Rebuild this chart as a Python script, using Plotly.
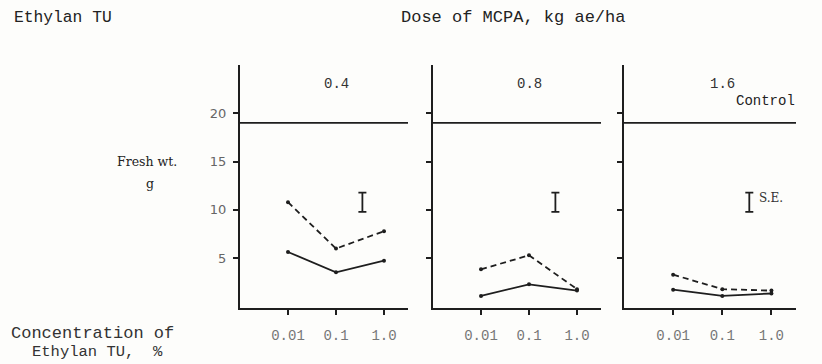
import plotly.graph_objects as go

# ---- data ----
doses = ["0.4", "0.8", "1.6"]                 # Dose of MCPA, kg ae/ha (panel titles)
concentrations = ["0.01", "0.1", "1.0"]       # Concentration of Ethylan TU, %
conc_pos = [1, 2, 3]
dashed_series = [[10.8, 6.0, 7.8], [3.85, 5.3, 1.8], [3.3, 1.8, 1.65]]
solid_series = [[5.65, 3.55, 4.75], [1.1, 2.3, 1.65], [1.75, 1.1, 1.35]]
control_value = 19.0
se_center = 10.8
se_half = 1.0
se_pos = 2.55
y_ticks = [5, 10, 15, 20]

INK = "#1e1e1e"
MONO = "Liberation Mono, Courier New, monospace"
SERIF = "DejaVu Serif, serif"

fig = go.Figure()

x_domains = [[240 / 822, 408 / 822], [433 / 822, 601 / 822], [624 / 822, 796 / 822]]
y_domain = [1 - 308 / 364, 1 - 65 / 364]

for i in range(3):
    sfx = "" if i == 0 else str(i + 1)
    xa, ya = "x" + sfx, "y" + sfx
    fig.add_trace(go.Scatter(x=conc_pos, y=dashed_series[i], xaxis=xa, yaxis=ya,
                             mode="lines+markers", line=dict(color=INK, width=1.8, dash="6px,4px"),
                             marker=dict(size=4, color=INK), showlegend=False, hoverinfo="skip"))
    fig.add_trace(go.Scatter(x=conc_pos, y=solid_series[i], xaxis=xa, yaxis=ya,
                             mode="lines+markers", line=dict(color=INK, width=1.8),
                             marker=dict(size=4, color=INK), showlegend=False, hoverinfo="skip"))
    # S.E. bar
    fig.add_trace(go.Scatter(x=[se_pos], y=[se_center], xaxis=xa, yaxis=ya, mode="markers",
                             marker=dict(size=1, color="rgba(0,0,0,0)"),
                             error_y=dict(type="data", array=[se_half], symmetric=True,
                                          color=INK, thickness=1.8, width=4),
                             showlegend=False, hoverinfo="skip"))
    # control line
    fig.add_shape(type="line", xref=xa + " domain", yref=ya, x0=0, x1=1,
                  y0=control_value, y1=control_value, line=dict(color=INK, width=1.8))
    # panel title
    fig.add_annotation(text=doses[i], xref=xa, yref="paper", x=2.0, y=1 - 74 / 364,
                       showarrow=False, font=dict(family=MONO, size=14, color="#333"))

    fig.layout["xaxis" + sfx] = dict(
        domain=x_domains[i], range=[0, 3.5], anchor=ya, showline=True, linecolor=INK, linewidth=2,
        tickmode="array", tickvals=conc_pos, ticktext=concentrations, ticks="outside",
        ticklen=5, tickwidth=2, tickcolor=INK, showgrid=False, zeroline=False,
        tickfont=dict(family=MONO, size=14, color="#777"), ticklabelstandoff=8, fixedrange=True)
    fig.layout["yaxis" + sfx] = dict(
        domain=y_domain, range=[-0.15, 25], anchor=xa, showline=True, linecolor=INK, linewidth=2,
        tickmode="array", tickvals=y_ticks, ticktext=[str(v) for v in y_ticks] if i == 0 else ["", "", "", ""],
        ticks="outside", ticklen=5, tickwidth=1.5, tickcolor=INK, showgrid=False, zeroline=False,
        tickfont=dict(family="DejaVu Sans, sans-serif", size=13, color="#666"), ticklabelstandoff=4,
        fixedrange=True)

ann = [
    dict(text="Ethylan TU", x=12, y=17, xanchor="left", size=16.3, color="#222", f=MONO),
    dict(text="Dose of MCPA, kg ae/ha", x=399, y=17, xanchor="left", size=17, color="#222", f=MONO),
    dict(text="Control", x=797, y=101, xanchor="right", size=14, color="#222", f=MONO),
    dict(text="Fresh wt.", x=179, y=161, xanchor="right", size=12.5, color="#222", f=SERIF),
    dict(text="g", x=150, y=183, xanchor="center", size=12.5, color="#222", f=SERIF),
    dict(text="Concentration of", x=9, y=333, xanchor="left", size=17, color="#333", f=MONO),
    dict(text="Ethylan TU,  %", x=30, y=352, xanchor="left", size=15.5, color="#333", f=MONO),
]
for a in ann:
    fig.add_annotation(text=a["text"], xref="paper", yref="paper", x=a["x"] / 822, y=1 - a["y"] / 364,
                       xanchor=a["xanchor"], yanchor="middle", showarrow=False,
                       font=dict(family=a["f"], size=a["size"], color=a["color"]))
fig.add_annotation(text="S.E.", xref="paper", yref="paper", x=757 / 822, y=1 - 198 / 364,
                   xanchor="left", yanchor="middle", showarrow=False,
                   font=dict(family=SERIF, size=12, color="#333"))

fig.update_layout(width=822, height=364, margin=dict(l=0, r=0, t=0, b=0),
                  paper_bgcolor="#fdfdfb", plot_bgcolor="rgba(0,0,0,0)")

fig.write_html("out.html", config={"displayModeBar": False})
